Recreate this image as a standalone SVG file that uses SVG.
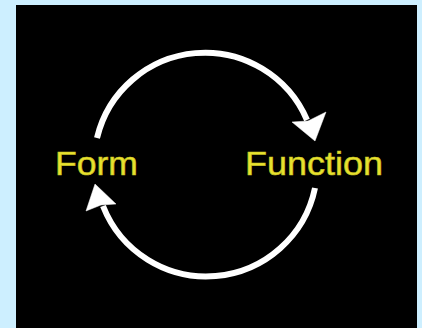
<svg xmlns="http://www.w3.org/2000/svg" width="422" height="328" viewBox="0 0 422 328">
  <defs>
    <filter id="soft" x="-10%" y="-10%" width="120%" height="120%">
      <feGaussianBlur stdDeviation="0.7"/>
    </filter>
  </defs>
  <style>
    .lbl { font-family: "Liberation Sans", Arial, sans-serif; font-size: 34px; fill: #e8e22e; stroke: #c8c226; stroke-width: 0.6px; }
    .arc { fill: none; stroke: #ffffff; stroke-width: 6; stroke-linecap: butt; }
    .head { fill: #ffffff; stroke: #ffffff; stroke-width: 0.5; stroke-linejoin: miter; }
  </style>
  <rect x="0" y="0" width="422" height="328" fill="#cdefff"/>
  <rect x="16" y="5" width="401" height="323" fill="#000000"/>
  <g id="connectors" filter="url(#soft)">
    <g id="form-to-function">
      <path class="arc" d="M 97 138 A 111 111 0 0 1 307 120"/>
      <polygon class="head" points="315,141 292,122 308,121 326,112"/>
    </g>
    <g id="function-to-form">
      <path class="arc" d="M 315 188 A 111 111 0 0 1 103 206"/>
      <polygon class="head" points="95,184 116,204 101,205 86,211"/>
    </g>
  </g>
  <g id="form">
    <text class="lbl" x="55" y="175" textLength="83" lengthAdjust="spacingAndGlyphs">Form</text>
  </g>
  <g id="function">
    <text class="lbl" x="245" y="175" textLength="138" lengthAdjust="spacingAndGlyphs">Function</text>
  </g>
</svg>
